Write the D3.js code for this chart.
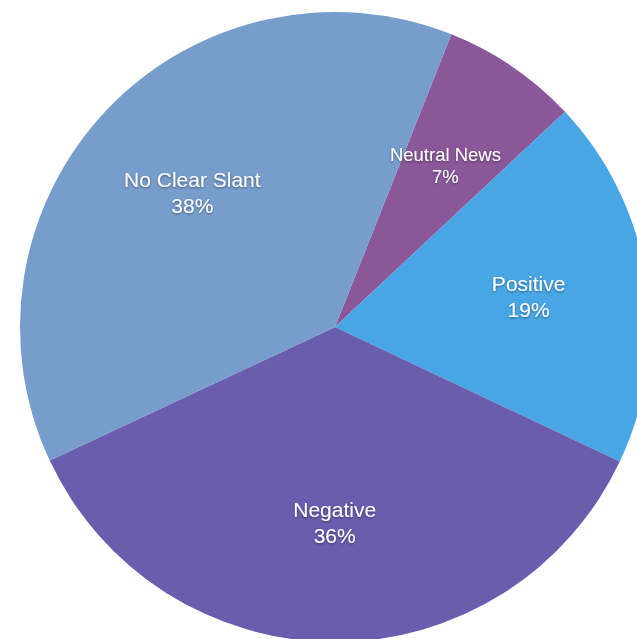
<!DOCTYPE html>
<html>
<head>
<meta charset="utf-8">
<script src="https://cdn.jsdelivr.net/npm/d3@7"></script>
<style>
  html, body { margin: 0; padding: 0; background: #fff; overflow: hidden; }
  text { font-family: "Liberation Sans", "Helvetica Neue", Arial, sans-serif; }
</style>
</head>
<body>
<div id="pie-chart"></div>
<script>
let width = 637,
    height = 639,
    cx = 335,
    cy = 327,
    radius = 315;

// slices clockwise, starting from the top-right one
const categories = ["Neutral News", "Positive", "Negative", "No Clear Slant"];
const shares = [7, 19, 36, 38];
const colors = ["#8a5899", "#49a6e5", "#6b5dad", "#779dcc"];

const svg = d3.select("#pie-chart")
  .append("svg")
  .attr("width", width)
  .attr("height", height);

// soft shadow under the labels
const filter = svg.append("defs").append("filter")
  .attr("id", "shadow")
  .attr("x", "-20%").attr("y", "-20%")
  .attr("width", "140%").attr("height", "140%");
filter.append("feDropShadow")
  .attr("dx", 0)
  .attr("dy", 1)
  .attr("stdDeviation", 1)
  .attr("flood-color", "#000")
  .attr("flood-opacity", 0.45);

let data = categories.map((c, i) => ({ name: c, value: shares[i], color: colors[i] }));

let start = 21.7 * Math.PI / 180;
let pie = d3.pie()
  .sort(null)
  .value(d => d.value)
  .startAngle(start)
  .endAngle(start + 2 * Math.PI);

let arc = d3.arc().innerRadius(0).outerRadius(radius);
let labelArc = d3.arc().innerRadius(196).outerRadius(196);

const g = svg.append("g")
  .attr("transform", `translate(${cx},${cy})`);

let arcs = pie(data);

g.selectAll("path")
  .data(arcs)
  .join("path")
  .attr("d", arc)
  .attr("fill", d => d.data.color);

let labels = g.selectAll("g.label")
  .data(arcs)
  .join("g")
  .attr("class", "label")
  .attr("transform", d => `translate(${labelArc.centroid(d)})`)
  .attr("filter", "url(#shadow)");

labels.each(function (d) {
  let small = d.data.name === "Neutral News";
  let fs = small ? 18.5 : 21;
  let gap = small ? 22 : 26;
  let t = d3.select(this);
  t.append("text")
    .attr("text-anchor", "middle")
    .attr("y", -gap / 2 + fs * 0.35)
    .attr("font-size", fs)
    .attr("fill", "#fff")
    .text(d.data.name);
  t.append("text")
    .attr("text-anchor", "middle")
    .attr("y", gap / 2 + fs * 0.35)
    .attr("font-size", fs)
    .attr("fill", "#fff")
    .text(d.data.value + "%");
});
</script>
</body>
</html>
